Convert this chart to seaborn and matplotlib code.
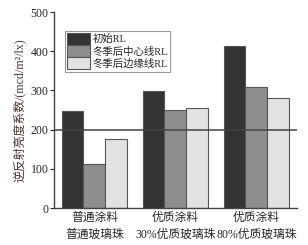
import seaborn as sns
import matplotlib.pyplot as plt
import pandas as pd

# data
groups = ['普通涂料\n普通玻璃珠', '优质涂料\n30%优质玻璃珠', '优质涂料\n80%优质玻璃珠']
series = ['初始RL', '冬季后中心线RL', '冬季后边缘线RL']
initial = [248, 298, 414]
center = [112, 249, 309]
edge = [176, 254, 280]
colors = ['#333333', '#8e8e8e', '#e2e2e2']

sns.set_style('ticks')
plt.rcParams['font.family'] = ['Liberation Serif', 'Noto Sans CJK SC']

df = pd.DataFrame({
    'group': groups * 3,
    'series': [series[0]] * 3 + [series[1]] * 3 + [series[2]] * 3,
    'value': initial + center + edge,
})

fig = plt.figure(figsize=(3.08, 2.45), dpi=100)
ax = fig.add_axes([0.175, 0.151, 0.789, 0.8])

sns.barplot(data=df, x='group', y='value', hue='series', palette=colors,
            width=0.81, gap=0, edgecolor='#555555', linewidth=0.8, ax=ax)

ax.axhline(200, color='#444444', lw=1.1, zorder=5)

ax.set_xlim(-0.5, 2.5)
ax.set_ylim(0, 500)
ax.set_yticks([0, 100, 200, 300, 400, 500])
ax.set_xlabel('')
ax.set_ylabel('逆反射亮度系数/(mcd/m²/lx)', fontsize=8.6, color='#4e3228', labelpad=3)
ax.tick_params(axis='y', labelsize=8.5, length=3, width=0.8, pad=1)
ax.tick_params(axis='x', labelsize=8.5, length=0, pad=3)
for lab in ax.get_xticklabels():
    lab.set_linespacing(1.5)
sns.despine(ax=ax)
for s in ['left', 'bottom']:
    ax.spines[s].set_color('#444444')
    ax.spines[s].set_linewidth(1)

leg = ax.legend(loc='upper left', bbox_to_anchor=(0.045, 0.905), fontsize=7.5,
                frameon=True, fancybox=False, framealpha=1, edgecolor='#999999',
                handlelength=2.2, handleheight=1.4, labelspacing=0,
                handletextpad=0.2, borderpad=0.25, borderaxespad=0)
leg.get_frame().set_linewidth(0.8)

plt.savefig('out.png', dpi=100)
